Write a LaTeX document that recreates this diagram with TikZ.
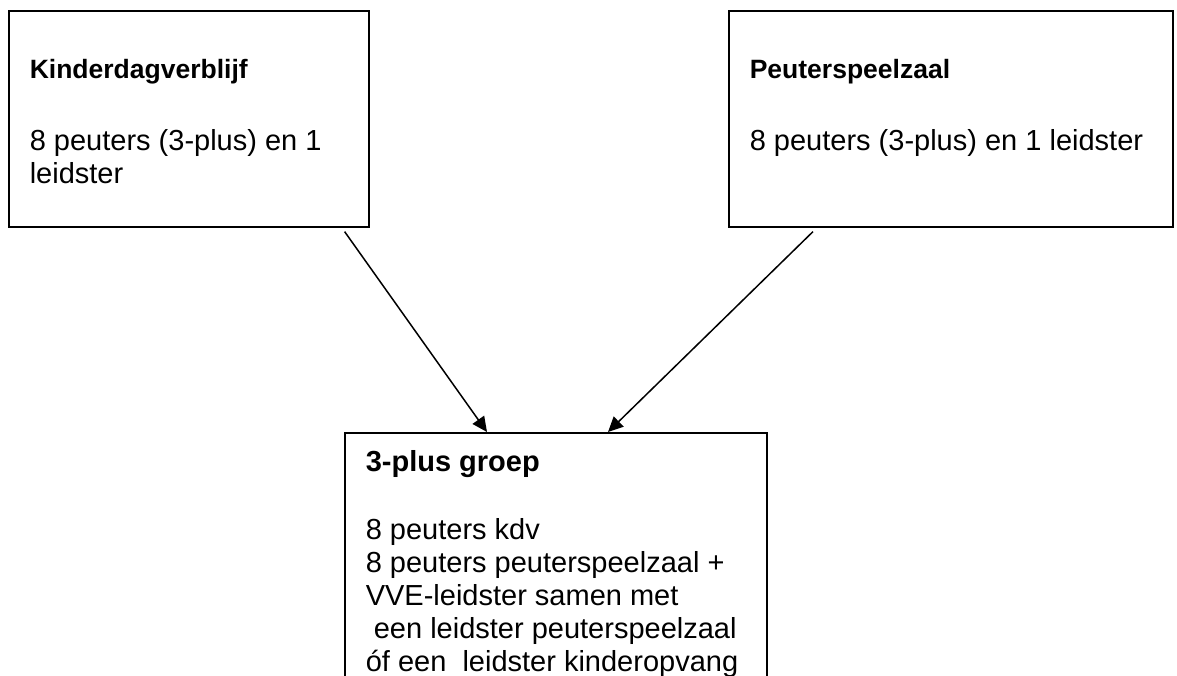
\documentclass[tikz,border=0pt]{standalone}
\usepackage{fontspec}
\setmainfont{Liberation Sans}
\usetikzlibrary{arrows.meta,calc}

\newcommand{\vakkop}[2]{{\fontsize{#1}{#1}\selectfont\bfseries #2\par}}
\newcommand{\vaktekst}[1]{{\fontsize{29}{33}\selectfont #1\par}}

\begin{document}
\begin{tikzpicture}[x=1pt,y=-1pt]
\tikzstyle{vak} = [draw, line width=1.6pt, anchor=north west, inner xsep=21pt]
\tikzstyle{pijl} = [line width=1.5pt, -{Triangle[length=15pt,width=14pt]}]

\useasboundingbox (0,0) rectangle (1177,675);

\node[vak, inner ysep=48.7pt] (kdv) at (8,10) {\parbox[t][118.6pt][t]{318pt}{\raggedright
  \vakkop{26.5}{Kinderdagverblijf}
  \vspace{39pt}
  \vaktekst{8 peuters (3-plus) en 1 leidster}}};

\node[vak, inner ysep=48.7pt] (psz) at (728,10) {\parbox[t][118.6pt][t]{402pt}{\raggedright
  \vakkop{26.5}{Peuterspeelzaal}
  \vspace{39pt}
  \vaktekst{8 peuters (3-plus) en 1 leidster}}};

% onderste vak loopt door tot buiten het beeld
\node[vak, inner ysep=17.2pt] (groep) at (344,432) {\parbox[t][253.6pt][t]{380pt}{\raggedright
  \vakkop{29}{3-plus groep}
  \vspace{35pt}
  \vaktekst{8 peuters kdv\\
    8 peuters peuterspeelzaal +\\
    VVE-leidster samen met\\
    \mbox{} een leidster peuterspeelzaal\\
    óf een\ \ leidster kinderopvang}}};

\draw[pijl] ($(kdv.south east)+(-25,4)$) -- ($(groep.north west)+(143,0)$);
\draw[pijl] ($(psz.south west)+(85,4)$) -- ($(groep.north west)+(264,0)$);

\end{tikzpicture}
\end{document}
